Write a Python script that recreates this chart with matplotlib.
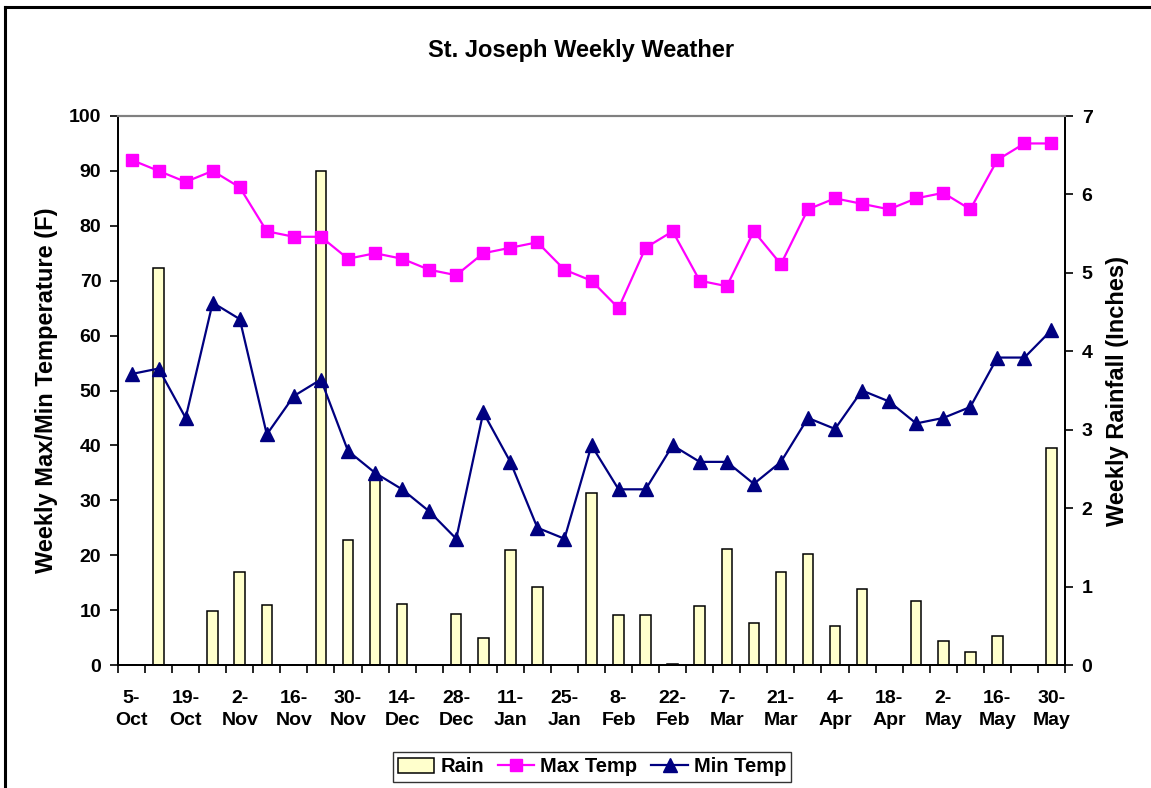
import matplotlib
matplotlib.use("Agg")
import matplotlib.pyplot as plt
from matplotlib.lines import Line2D
import numpy as np

plt.rcParams['font.family'] = ['Liberation Sans', 'DejaVu Sans']
plt.rcParams['font.weight'] = 'bold'

# weekly values, 5-Oct through 30-May
max_temp = [92, 90, 88, 90, 87, 79, 78, 78, 74, 75, 74, 72, 71, 75, 76, 77, 72, 70,
            65, 76, 79, 70, 69, 79, 73, 83, 85, 84, 83, 85, 86, 83, 92, 95, 95]
min_temp = [53, 54, 45, 66, 63, 42, 49, 52, 39, 35, 32, 28, 23, 46, 37, 25, 23, 40,
            32, 32, 40, 37, 37, 33, 37, 45, 43, 50, 48, 44, 45, 47, 56, 56, 61]
rain = [0, 5.06, 0, 0.69, 1.19, 0.77, 0, 6.30, 1.59, 2.38, 0.78, 0, 0.65, 0.34, 1.46,
        0.99, 0, 2.19, 0.64, 0.64, 0.01, 0.75, 1.48, 0.53, 1.19, 1.41, 0.50, 0.97, 0,
        0.82, 0.30, 0.16, 0.37, 0, 2.77]
tick_labels = ['5-\nOct', '19-\nOct', '2-\nNov', '16-\nNov', '30-\nNov', '14-\nDec',
               '28-\nDec', '11-\nJan', '25-\nJan', '8-\nFeb', '22-\nFeb', '7-\nMar',
               '21-\nMar', '4-\nApr', '18-\nApr', '2-\nMay', '16-\nMay', '30-\nMay']

W, H = 1151, 788
fig = plt.figure(figsize=(W / 100, H / 100), dpi=100)
ax = fig.add_axes([118 / W, 1 - 665 / H, (1065 - 118) / W, (665 - 116) / H])
ax2 = ax.twinx()

x = np.arange(len(max_temp))

# rain bars on the secondary axis, drawn behind the temperature lines
ax2.bar(x, rain, width=0.39, color='#FFFFCC', edgecolor='black', linewidth=1.1, label='Rain')
ax2.set_ylim(0, 7)
ax2.set_yticks(range(0, 8))
ax2.set_ylabel('Weekly Rainfall (Inches)', fontsize=17, fontweight='bold', labelpad=10)

ax.plot(x, max_temp, color='#FF00FF', marker='s', markersize=8.5, linewidth=1.6, label='Max Temp')
ax.plot(x, min_temp, color='#000080', marker='^', markersize=9.5, linewidth=1.6, label='Min Temp')
ax.set_ylim(0, 100)
ax.set_yticks(range(0, 101, 10))
ax.set_xlim(-0.5, len(x) - 0.5)
ax.set_ylabel('Weekly Max/Min Temperature (F)', fontsize=17, fontweight='bold', labelpad=8)

ax.set_zorder(ax2.get_zorder() + 1)
ax.patch.set_visible(False)

# category boundaries get tick marks, labels every other week
ax.set_xticks(np.arange(-0.5, len(x), 1.0))
ax.set_xticklabels([])
ax.set_xticks(x[::2], minor=True)
ax.set_xticklabels(tick_labels, minor=True, fontsize=14, fontweight='bold', linespacing=1.4)
ax.tick_params(axis='x', which='major', length=6, width=1.2, direction='out')
ax.tick_params(axis='x', which='minor', length=0, pad=18)
ax.tick_params(axis='y', length=6, width=1.2, labelsize=14, pad=6)
ax2.tick_params(axis='y', length=6, width=1.2, labelsize=14, pad=6)

for a in (ax, ax2):
    a.spines['top'].set_color('#808080')
    a.spines['top'].set_linewidth(1.5)
    a.spines['left'].set_color('black')
    a.spines['right'].set_color('black')
    a.spines['bottom'].set_color('black')
    for s in a.spines.values():
        if s is not a.spines['top']:
            s.set_linewidth(1.3)

fig.text(581 / W, 1 - 51 / H, 'St. Joseph Weekly Weather', ha='center', va='center',
         fontsize=17, fontweight='bold')

handles = ax2.get_legend_handles_labels()[0] + ax.get_legend_handles_labels()[0]
labels = ['Rain', 'Max Temp', 'Min Temp']
leg = fig.legend(handles, labels, loc='center', bbox_to_anchor=(592 / W, 1 - 767 / H),
                 ncol=3, fontsize=14.5, frameon=True, fancybox=False, handlelength=1.8,
                 handletextpad=0.3, columnspacing=0.7, borderpad=0.25)
leg.get_frame().set_edgecolor('black')
leg.get_frame().set_linewidth(1.0)
for t in leg.get_texts():
    t.set_fontweight('bold')

# chart area border (left and top edges visible in the crop)
fig.add_artist(Line2D([5 / W, 5 / W], [0, 1 - 7 / H], color='black', linewidth=2.2))
fig.add_artist(Line2D([5 / W, 1], [1 - 7 / H, 1 - 7 / H], color='black', linewidth=2.2))

fig.savefig('out.png', dpi=100)
